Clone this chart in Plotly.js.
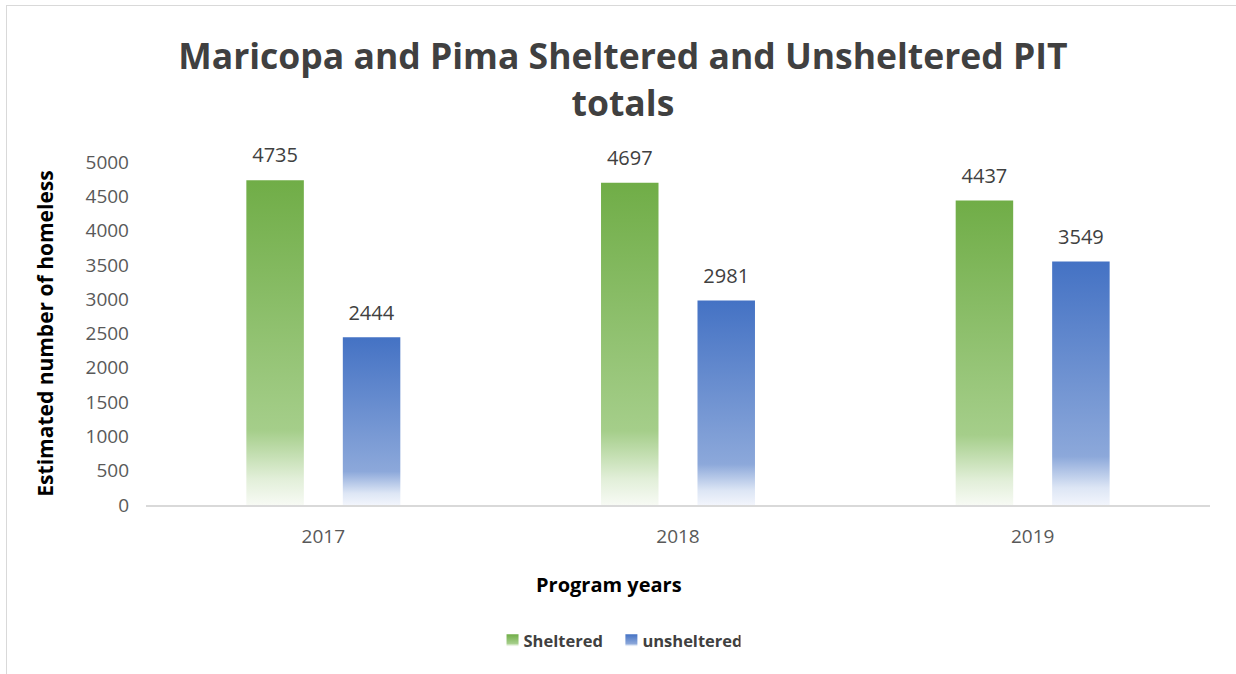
<!DOCTYPE html>
<html>
<head>
<meta charset="utf-8">
<script src="https://cdn.plot.ly/plotly-3.0.1.min.js"></script>
<style>
html,body{margin:0;padding:0;background:#fff;}
#chart{width:1236px;height:674px;}
#frame{position:absolute;left:6px;top:5px;width:1240px;height:700px;border-left:1px solid #d9d9d9;border-top:1px solid #d9d9d9;pointer-events:none;}
</style>
</head>
<body>
<div id="chart"></div>
<div id="frame"></div>
<script>
const years = ['2017', '2018', '2019'];
const sheltered = [4735, 4697, 4437];
const unsheltered = [2444, 2981, 3549];
const yTicks = [0, 500, 1000, 1500, 2000, 2500, 3000, 3500, 4000, 4500, 5000];

const FONT = 'Open Sans, Noto Sans, sans-serif';
const labelTpl = '<span style="font-size:20px">%{y}</span><br> ';

const traces = [
  {
    type: 'bar', name: 'Sheltered', x: years, y: sheltered,
    marker: {color: '#70AD47'},
    text: sheltered, texttemplate: labelTpl, textposition: 'outside', constraintext: 'none',
    textfont: {size: 9, color: '#404040', family: FONT},
    cliponaxis: false, hoverinfo: 'x+y'
  },
  {
    type: 'bar', name: 'unsheltered', x: years, y: unsheltered,
    marker: {color: '#4472C4'},
    text: unsheltered, texttemplate: labelTpl, textposition: 'outside', constraintext: 'none',
    textfont: {size: 9, color: '#404040', family: FONT},
    cliponaxis: false, hoverinfo: 'x+y'
  }
];

const layout = {
  width: 1236, height: 674,
  margin: {l: 146, r: 26, t: 162, b: 169},
  paper_bgcolor: '#fff', plot_bgcolor: '#fff',
  font: {family: FONT, color: '#595959'},
  title: {
    text: '<b>Maricopa and Pima Sheltered and Unsheltered PIT<br>totals</b>',
    font: {size: 35.5, color: '#404040', family: FONT},
    x: 0.504, xanchor: 'center', y: 0.897, yanchor: 'middle'
  },
  barmode: 'group', bargap: 0.456, bargroupgap: 0.404,
  xaxis: {
    type: 'category',
    showline: true, linecolor: '#d9d9d9', linewidth: 1.5,
    ticks: '', showgrid: false, ticklabelstandoff: 14,
    tickfont: {size: 19, color: '#595959'}
  },
  yaxis: {
    range: [0, 5000], tickvals: yTicks, ticktext: yTicks.map(String),
    showgrid: false, zeroline: false, showline: false, ticks: '',
    ticklabelstandoff: 16,
    tickfont: {size: 19, color: '#595959'},
    title: {text: '<b>Estimated number of homeless</b>', font: {size: 21, color: '#000'}, standoff: 26}
  },
  annotations: [{
    text: '<b>Program years</b>', xref: 'paper', yref: 'paper',
    x: 0.435, y: -0.233, xanchor: 'center', yanchor: 'middle',
    showarrow: false, font: {size: 20, color: '#000', family: FONT}
  }],
  showlegend: true,
  legend: {
    orientation: 'h', x: 0.438, xanchor: 'center', y: -0.395, yanchor: 'middle',
    font: {size: 16.5, color: '#404040'}, traceorder: 'normal', itemwidth: 30
  }
};

const gradients = {
  gradGreen: [['0%', '#70AD47'], ['77%', '#A5CE8A'], ['92%', '#E2EFD9'], ['100%', '#F7FAF4']],
  gradBlue: [['0%', '#4472C4'], ['80%', '#8CA8DA'], ['93%', '#DDE6F5'], ['100%', '#F2F5FC']]
};

function applyGradients(gd) {
  const svg = gd.querySelector('svg.main-svg');
  if (!svg) return;
  let defs = svg.querySelector('defs#customgrad');
  if (!defs) {
    defs = document.createElementNS('http://www.w3.org/2000/svg', 'defs');
    defs.setAttribute('id', 'customgrad');
    for (const id in gradients) {
      const lg = document.createElementNS('http://www.w3.org/2000/svg', 'linearGradient');
      lg.setAttribute('id', id);
      lg.setAttribute('x1', '0'); lg.setAttribute('y1', '0');
      lg.setAttribute('x2', '0'); lg.setAttribute('y2', '1');
      gradients[id].forEach(([off, col]) => {
        const st = document.createElementNS('http://www.w3.org/2000/svg', 'stop');
        st.setAttribute('offset', off); st.setAttribute('stop-color', col);
        lg.appendChild(st);
      });
      defs.appendChild(lg);
    }
    svg.insertBefore(defs, svg.firstChild);
  }
  const ids = ['gradGreen', 'gradBlue'];
  gd.querySelectorAll('.barlayer .trace.bars').forEach((tr, i) => {
    tr.querySelectorAll('path').forEach(p => { p.style.fill = 'url(#' + ids[i] + ')'; });
  });
  gd.querySelectorAll('.legend .traces').forEach((tr, i) => {
    const lp = tr.querySelector('.legendpoints');
    if (lp) {
      lp.setAttribute('transform', 'translate(9,0)');
      lp.querySelectorAll('path').forEach(p => { p.style.fill = 'url(#' + ids[i] + ')'; });
    }
    const t = tr.querySelector('text.legendtext');
    if (t) t.style.fontWeight = 'bold';
  });
}

Plotly.newPlot('chart', traces, layout, {displayModeBar: false, staticPlot: true}).then(gd => {
  applyGradients(gd);
  gd.on('plotly_afterplot', () => applyGradients(gd));
});
</script>
</body>
</html>
